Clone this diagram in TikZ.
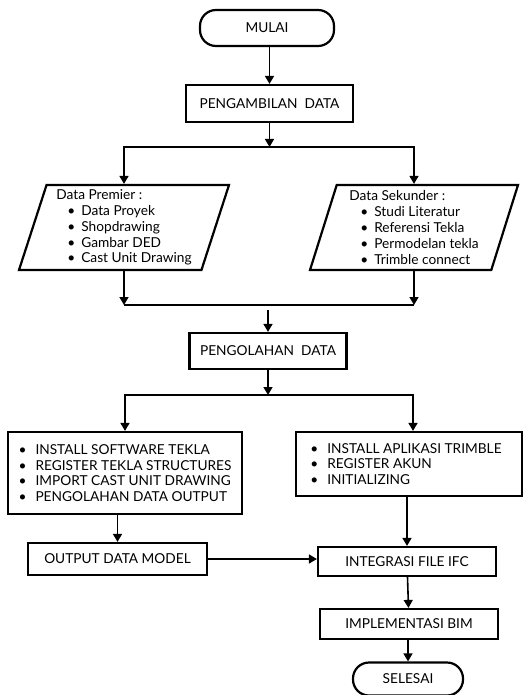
\documentclass[tikz,border=0pt]{standalone}
\usepackage{fontspec}
\setmainfont{Lato}
\usetikzlibrary{arrows.meta,positioning,calc,shapes.geometric}

\newcommand{\butir}[1]{\hspace*{11pt}\textbullet\hspace{6pt}#1}
\newcommand{\poin}[1]{\textbullet\hspace{9pt}#1}

\tikzset{
  proc/.style={draw,line width=2.2pt,rectangle,inner sep=0pt,align=center},
  term/.style={draw,line width=2.2pt,rectangle,rounded corners=16pt,inner sep=0pt},
  io/.style={draw,line width=2.2pt,trapezium,trapezium left angle=70,trapezium right angle=110,
    trapezium stretches body,inner sep=0pt,align=left},
  arr/.style={line width=1.6pt,-{Triangle[length=8pt,width=9pt]}},
  garis/.style={line width=1.6pt}
}

\begin{document}
\begin{tikzpicture}[x=1pt,y=1pt,font=\fontsize{13.7}{15.8}\selectfont]
\useasboundingbox (0,0) rectangle (523,-695);
% terminal dan proses atas
\node[term,minimum width=134pt,minimum height=36pt] (mulai) at (267,-28) {MULAI};
\node[proc,minimum width=167pt,minimum height=37pt] (ambil) at (269.5,-103.5) {PENGAMBILAN\ \ DATA};
% data masukan
\node[io,minimum width=210pt,minimum height=85pt] (premier) at (124,-227.5)
  {Data Premier :\\ \butir{Data Proyek}\\ \butir{Shopdrawing}\\ \butir{Gambar DED}\\ \butir{Cast Unit Drawing}};
\node[io,minimum width=208pt,minimum height=85pt] (sekunder) at (414,-227.5)
  {Data Sekunder :\\ \butir{Studi Literatur}\\ \butir{Referensi Tekla}\\ \butir{Permodelan tekla}\\ \butir{Trimble connect}};
\node[proc,minimum width=157pt,minimum height=36pt] (olah) at (268,-351) {PENGOLAHAN\ \ DATA};
% tahap pengolahan
\node[proc,minimum width=234pt,minimum height=82pt,align=left] (tekla) at (125,-473)
  {\poin{INSTALL SOFTWARE TEKLA}\\ \poin{REGISTER TEKLA STRUCTURES}\\ \poin{IMPORT CAST UNIT DRAWING}\\ \poin{PENGOLAHAN DATA OUTPUT}};
\node[proc,minimum width=226pt,minimum height=64pt,align=left] (trimble) at (409,-464)
  {\poin{INSTALL APLIKASI TRIMBLE}\hspace*{6pt}\\ \poin{REGISTER AKUN}\\ \poin{INITIALIZING}};
\node[proc,minimum width=179pt,minimum height=32pt] (output) at (117.5,-559) {OUTPUT DATA MODEL};
\node[proc,minimum width=178pt,minimum height=29pt] (ifc) at (407,-561.5) {INTEGRASI FILE IFC};
\node[proc,minimum width=178pt,minimum height=30pt] (bim) at (409,-624) {IMPLEMENTASI BIM};
\node[term,minimum width=110pt,minimum height=33pt] (selesai) at (408,-679) {SELESAI};
% titik cabang
\coordinate (c1) at (269.5,-147);
\coordinate (c2) at (268,-305);
\coordinate (c3) at (268,-395);
% penghubung
\draw[arr] (mulai.south -| ambil) -- (ambil);
\draw[arr] (ambil) -- (c1);
\draw[arr] (c1) -| (premier);
\draw[arr] (c1) -| (sekunder);
\draw[arr] (premier) -- (premier |- c2);
\draw[arr] (sekunder) -- (sekunder |- c2);
\draw[garis] (premier |- c2) -- (sekunder |- c2);
\draw[arr] ([yshift=-5pt]c2) -- (olah);
\draw[arr] (olah) -- (c3);
\draw[arr] (c3) -| (tekla);
\draw[arr] (c3) -| ([xshift=4pt]trimble.north);
\draw[arr] (tekla.south -| output) -- (output);
\draw[arr] (trimble.south -| ifc) -- (ifc);
\draw[arr] (output) -- (output -| ifc.west);
\draw[arr] (ifc) -- (bim);
\draw[arr] (bim.south -| selesai) -- (selesai);
\end{tikzpicture}
\end{document}
